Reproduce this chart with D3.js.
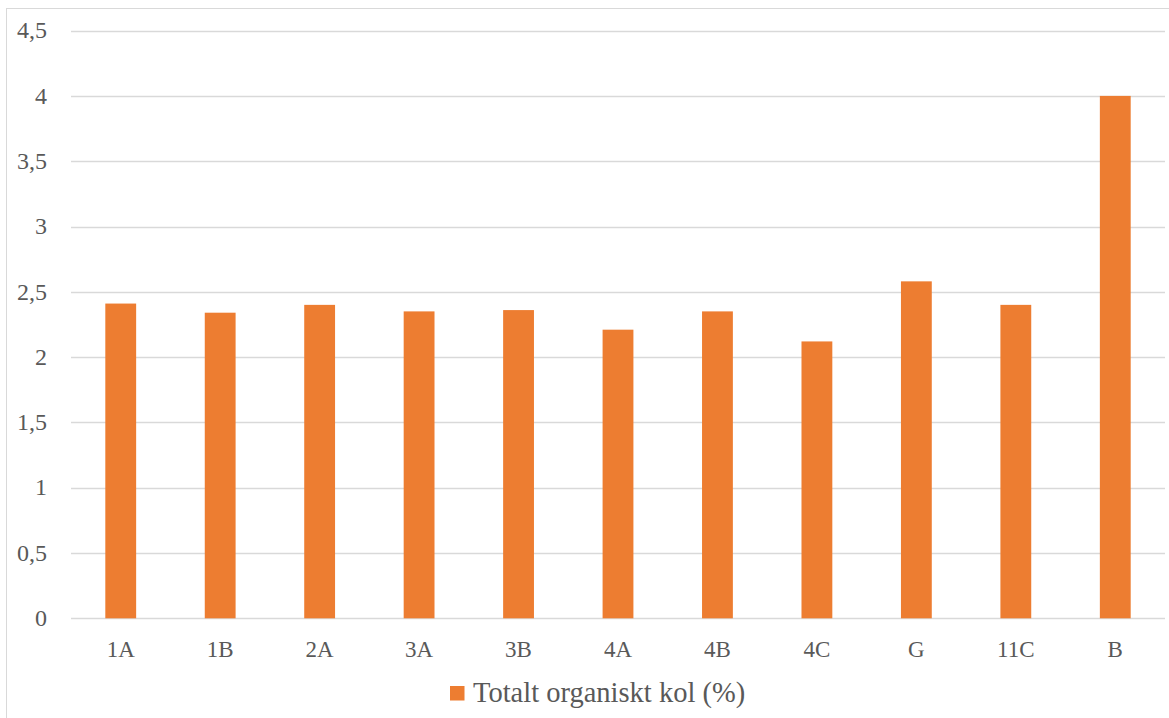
<!DOCTYPE html>
<html>
<head>
<meta charset="utf-8">
<script src="https://cdn.jsdelivr.net/npm/d3@7"></script>
<style>
  html, body { margin: 0; padding: 0; background: #fff; }
  svg { display: block; }
  text { font-family: "Liberation Serif", "Times New Roman", serif; fill: #595959; }
</style>
</head>
<body>
<svg id="chart" width="1169" height="718"></svg>
<script>
// Sample sites and their total organic carbon (%)
const categories = ["1A", "1B", "2A", "3A", "3B", "4A", "4B", "4C", "G", "11C", "B"];
const tocValues = [2.41, 2.34, 2.40, 2.35, 2.36, 2.21, 2.35, 2.12, 2.58, 2.40, 4.00];
const yTicks = [0, 0.5, 1, 1.5, 2, 2.5, 3, 3.5, 4, 4.5];
const seriesName = "Totalt organiskt kol (%)";

const W = 1169, H = 718;
const margin = { left: 71, right: 4, top: 30.6, bottom: 99.7 };
const svg = d3.select("#chart");

// chart frame
svg.append("rect")
  .attr("x", 6.5).attr("y", 8.5)
  .attr("width", W).attr("height", H)
  .attr("fill", "none").attr("stroke", "#d9d9d9").attr("stroke-width", 1);

const x = d3.scaleBand()
  .domain(categories)
  .range([margin.left, W - margin.right])
  .paddingInner(0.69).paddingOuter(0.345);

const y = d3.scaleLinear()
  .domain([0, 4.5])
  .range([H - margin.bottom, margin.top]);

// horizontal gridlines
svg.append("g")
  .selectAll("line")
  .data(yTicks)
  .join("line")
  .attr("x1", margin.left).attr("x2", W - margin.right)
  .attr("y1", d => Math.round(y(d)) + 0.5).attr("y2", d => Math.round(y(d)) + 0.5)
  .attr("stroke", "#d9d9d9").attr("stroke-width", 1.3);

// y axis labels
const fmt = d => String(d).replace(".", ",");
const yAxis = d3.axisLeft(y).tickValues(yTicks).tickFormat(fmt).tickSize(0).tickPadding(0);
const yg = svg.append("g").attr("transform", `translate(${47},0)`).call(yAxis);
yg.select(".domain").remove();
yg.selectAll("text")
  .attr("font-size", 24)
  .attr("dy", "0.3em")
  .style("font-family", "'Liberation Serif', serif")
  .attr("fill", "#595959");

// bars
svg.append("g")
  .selectAll("rect")
  .data(categories.map((c, i) => ({ c, v: tocValues[i] })))
  .join("rect")
  .attr("x", d => x(d.c))
  .attr("width", x.bandwidth())
  .attr("y", d => y(d.v))
  .attr("height", d => y(0) - y(d.v))
  .attr("fill", "#ED7D31");

// x axis labels
const xAxis = d3.axisBottom(x).tickSize(0).tickPadding(0);
const xg = svg.append("g").attr("transform", `translate(0,${y(0) + 31.3})`).call(xAxis);
xg.select(".domain").remove();
xg.selectAll("text")
  .attr("font-size", 23)
  .attr("dy", "0.32em")
  .style("font-family", "'Liberation Serif', serif")
  .attr("fill", "#595959");

// legend
const legend = svg.append("g").attr("transform", "translate(450,686)");
legend.append("rect").attr("width", 14.5).attr("height", 14.5).attr("fill", "#ED7D31");
legend.append("text")
  .attr("x", 23).attr("y", 15.5)
  .attr("font-size", 28.5)
  .text(seriesName);
</script>
</body>
</html>
